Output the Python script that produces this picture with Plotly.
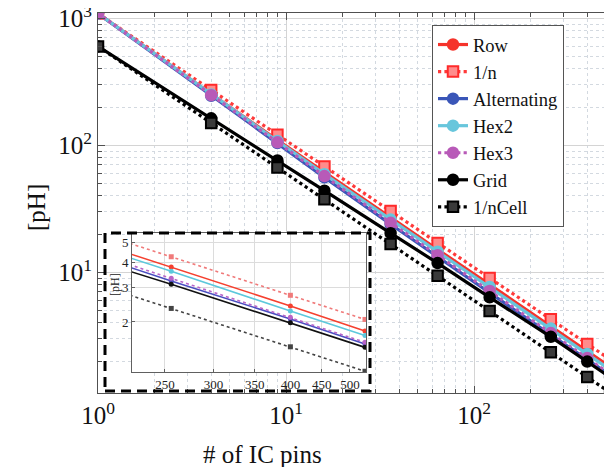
import math
import plotly.graph_objects as go

# ---------------- data ----------------
pins = [1, 4, 9, 16, 36, 64, 121, 256, 400, 529]
row = [1090, 253, 110, 61.3, 27.1, 15.1, 8.0, 3.78, 2.41, 1.80]
inv_n = [1090, 272.5, 121.1, 68.1, 30.3, 17.0, 9.01, 4.26, 2.725, 2.06]
alternating = [1090, 245, 104, 55.8, 23.9, 13.2, 6.89, 3.22, 2.07, 1.55]
hex2 = [1090, 251, 108, 59.2, 26.0, 14.5, 7.66, 3.60, 2.27, 1.71]
hex3 = [1090, 248, 105.4, 57.2, 24.5, 13.6, 7.12, 3.32, 2.11, 1.58]
grid = [600, 163, 76, 43.9, 20.3, 11.8, 6.35, 3.10, 1.98, 1.49]
inv_ncell = [600, 150, 66.7, 37.5, 16.7, 9.38, 4.96, 2.34, 1.50, 1.13]

series_names = ["Row", "1/n", "Alternating", "Hex2", "Hex3", "Grid", "1/nCell"]
series_vals = [row, inv_n, alternating, hex2, hex3, grid, inv_ncell]

main_x_ticks = [1, 10, 100]
main_x_labels = ["10<sup>0</sup>", "10<sup>1</sup>", "10<sup>2</sup>"]
main_y_ticks = [10, 100, 1000]
main_y_labels = ["10<sup>1</sup>", "10<sup>2</sup>", "10<sup>3</sup>"]
inset_x_ticks = [250, 300, 350, 400, 450, 500]
inset_y_ticks = [2, 3, 4, 5]

# ---------------- styles ----------------
FONT = "Liberation Serif"
styles = {
    "Row":         dict(color="#f5332b", dash="solid", symbol="circle", fill="#f5332b", mcolor="#f5332b"),
    "1/n":         dict(color="#ff3a3a", dash="dot",   symbol="square", fill="#ff8c8c", mcolor="#ff2a2a"),
    "Alternating": dict(color="#3a56b8", dash="solid", symbol="circle", fill="#3a56b8", mcolor="#3a56b8"),
    "Hex2":        dict(color="#68c6dc", dash="solid", symbol="circle", fill="#68c6dc", mcolor="#68c6dc"),
    "Hex3":        dict(color="#b85ab8", dash="dot",   symbol="circle", fill="#b85ab8", mcolor="#b85ab8"),
    "Grid":        dict(color="#000000", dash="solid", symbol="circle", fill="#000000", mcolor="#000000"),
    "1/nCell":     dict(color="#000000", dash="dot",   symbol="square", fill="#3a3a3a", mcolor="#000000"),
}
inset_colors = {
    "Row": "#f5402f", "1/n": "#f07a7a", "Alternating": "#4a4ec0", "Hex2": "#5cc8dc",
    "Hex3": "#b864c8", "Grid": "#111111", "1/nCell": "#444444",
}

fig = go.Figure()

for name, vals in zip(series_names, series_vals):
    s = styles[name]
    fig.add_trace(go.Scatter(
        x=pins, y=vals, name=name, mode="lines+markers",
        line=dict(color=s["color"], width=3.2, dash=s["dash"]),
        marker=dict(symbol=s["symbol"], size=10.5, color=s["fill"],
                    line=dict(color=s["mcolor"], width=2)),
        xaxis="x", yaxis="y",
    ))

for name, vals in zip(series_names, series_vals):
    s = styles[name]
    c = inset_colors[name]
    fig.add_trace(go.Scatter(
        x=pins, y=vals, name=name, mode="lines+markers", showlegend=False,
        line=dict(color=c, width=1.6, dash=s["dash"]),
        marker=dict(symbol=s["symbol"], size=5, color=c),
        xaxis="x2", yaxis="y2",
    ))

# minor tick positions on log axes
x_minor = [m * d for d in (1, 10, 100) for m in range(2, 10) if m * d <= 535]
y_minor = [m * d for d in (1, 10, 100) for m in range(2, 10) if m * d >= 1.12]

axis_common = dict(
    showline=True, linecolor="#505050", linewidth=1, mirror="allticks",
    ticks="inside", tickcolor="#505050", ticklen=7, automargin=False,
    ticklabeloverflow="allow",
    showgrid=True, gridcolor="#d4d4d4", gridwidth=1, zeroline=False,
    tickfont=dict(family=FONT, size=25, color="#111"),
)

TOP, BOTTOM, LEFT, RIGHT = 5, 385, 90, 603
PH = BOTTOM - TOP
PW = RIGHT - LEFT

fig.update_layout(
    template="none",
    width=612, height=467,
    margin=dict(l=LEFT, r=612 - RIGHT, t=TOP, b=467 - BOTTOM, pad=0, autoexpand=False),
    paper_bgcolor="white", plot_bgcolor="white",
    font=dict(family=FONT, color="#111"),
    xaxis=dict(
        type="log", range=[0, math.log10(535)], domain=[0, 1],
        tickmode="array", tickvals=main_x_ticks, ticktext=main_x_labels,
        minor=dict(tickmode="array", tickvals=x_minor, ticks="inside", ticklen=4,
                   tickcolor="#505050", showgrid=True, gridcolor="#d3d9e0",
                   griddash="dot", gridwidth=1),
        **axis_common,
    ),
    yaxis=dict(
        type="log", range=[math.log10(1.12), math.log10(1100)], domain=[0, 1],
        tickmode="array", tickvals=main_y_ticks, ticktext=main_y_labels,
        minor=dict(tickmode="array", tickvals=y_minor, ticks="inside", ticklen=4,
                   tickcolor="#505050", showgrid=True, gridcolor="#d3d9e0",
                   griddash="dot", gridwidth=1),
        **axis_common,
    ),
    xaxis2=dict(
        type="log", range=[math.log10(221), math.log10(531)],
        domain=[(124 - LEFT) / PW, (358 - LEFT) / PW], anchor="y2",
        tickmode="array", tickvals=inset_x_ticks, automargin=False,
        showline=True, linecolor="#606060", linewidth=1, mirror=True,
        ticks="inside", ticklen=3, tickcolor="#606060",
        showgrid=True, gridcolor="#dcdcdc", zeroline=False,
        tickfont=dict(family=FONT, size=13, color="#222"),
    ),
    yaxis2=dict(
        type="log", range=[math.log10(1.12), math.log10(5.61)],
        domain=[1 - (364 - TOP) / PH, 1 - (225 - TOP) / PH], anchor="x2",
        tickmode="array", tickvals=inset_y_ticks, automargin=False,
        showline=True, linecolor="#606060", linewidth=1, mirror=True,
        ticks="inside", ticklen=3, tickcolor="#606060",
        showgrid=True, gridcolor="#dcdcdc", zeroline=False,
        tickfont=dict(family=FONT, size=13, color="#222"),
    ),
    legend=dict(
        x=(424 - LEFT) / PW, y=1 - (17 - TOP) / PH, xanchor="left", yanchor="top",
        bgcolor="white", bordercolor="#555", borderwidth=1,
        font=dict(family=FONT, size=18.5, color="#111"),
        tracegroupgap=0,
    ),
    showlegend=True,
)

# dashed frame around the inset
fig.add_shape(type="rect", xref="paper", yref="paper",
              x0=(97 - LEFT) / PW, x1=(362 - LEFT) / PW,
              y0=1 - (383 - TOP) / PH, y1=1 - (225 - TOP) / PH,
              line=dict(color="black", width=3, dash="10px,6px"), layer="above")

# axis titles
fig.add_annotation(text="# of IC pins", xref="paper", yref="paper",
                   x=(254 - LEFT) / PW, y=-(446 - BOTTOM) / PH, xanchor="center", yanchor="middle",
                   showarrow=False, font=dict(family=FONT, size=25, color="#111"))
fig.add_annotation(text="[pH]", xref="paper", yref="paper", textangle=-90,
                   x=-(LEFT - 28) / PW, y=1 - (200 - TOP) / PH, xanchor="center", yanchor="middle",
                   showarrow=False, font=dict(family=FONT, size=25, color="#111"))
fig.add_annotation(text="[pH]", xref="paper", yref="paper", textangle=-90,
                   x=(107 - LEFT) / PW, y=1 - (277 - TOP) / PH, xanchor="center", yanchor="middle",
                   showarrow=False, font=dict(family=FONT, size=12, color="#222"))

fig.write_html("out.html")
